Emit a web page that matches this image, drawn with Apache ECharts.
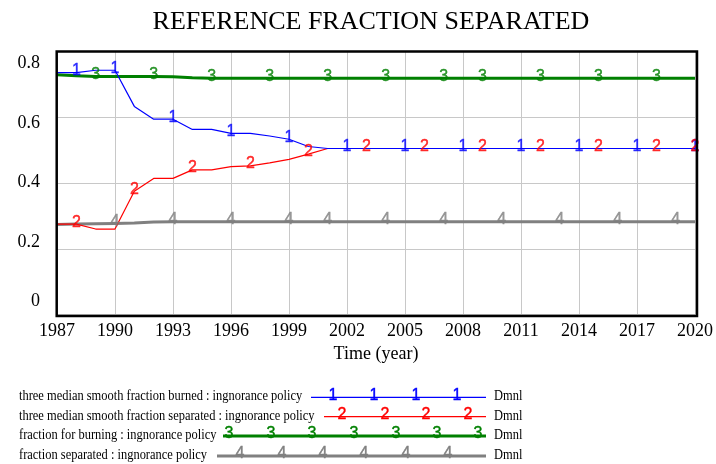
<!DOCTYPE html>
<html>
<head>
<meta charset="utf-8">
<script src="https://cdn.jsdelivr.net/npm/echarts@6/dist/echarts.min.js"></script>
<style>
  html, body { margin: 0; padding: 0; background: #fff; }
  #chart { width: 716px; height: 464px; }
</style>
</head>
<body>
<div id="chart"></div>
<script>
// Simulation years (one point per year)
const years = ['1987','1988','1989','1990','1991','1992','1993','1994','1995','1996',
  '1997','1998','1999','2000','2001','2002','2003','2004','2005','2006','2007','2008',
  '2009','2010','2011','2012','2013','2014','2015','2016','2017','2018','2019','2020'];

// three median smooth fraction burned : ingnorance policy
const smoothBurned = [0.736,0.736,0.743,0.743,0.633,0.594,0.594,0.563,0.563,0.551,
  0.551,0.543,0.533,0.511,0.505,0.505,0.505,0.505,0.505,0.505,0.505,0.505,
  0.505,0.505,0.505,0.505,0.505,0.505,0.505,0.505,0.505,0.505,0.505,0.505];

// three median smooth fraction separated : ingnorance policy
const smoothSeparated = [0.275,0.275,0.260,0.260,0.375,0.414,0.414,0.440,0.440,0.450,
  0.452,0.461,0.472,0.488,0.505,0.505,0.505,0.505,0.505,0.505,0.505,0.505,
  0.505,0.505,0.505,0.505,0.505,0.505,0.505,0.505,0.505,0.505,0.505,0.505];

// fraction for burning : ingnorance policy
const fractionBurning = [0.729,0.726,0.724,0.724,0.724,0.724,0.723,0.720,0.719,0.719,
  0.719,0.719,0.719,0.719,0.719,0.719,0.719,0.719,0.719,0.719,0.719,0.719,
  0.719,0.719,0.719,0.719,0.719,0.719,0.719,0.719,0.719,0.719,0.719,0.719];

// fraction separated : ingnorance policy
const fractionSeparated = [0.274,0.275,0.276,0.277,0.278,0.281,0.282,0.282,0.282,0.282,
  0.282,0.282,0.282,0.282,0.282,0.282,0.282,0.282,0.282,0.282,0.282,0.282,
  0.282,0.282,0.282,0.282,0.282,0.282,0.282,0.282,0.282,0.282,0.282,0.282];

// Years where each curve carries its number tag
const burnedTagYears = ['1988','1990','1993','1996','1999','2002','2005','2008','2011','2014','2017','2020'];
const separatedTagYears = ['1988','1991','1994','1997','2000','2003','2006','2009','2012','2015','2018','2020'];
const burningTagYears = ['1989','1992','1995','1998','2001','2004','2007','2009','2012','2015','2018'];
const fracSepTagYears = ['1990','1993','1996','1999','2001','2004','2007','2010','2013','2016','2019'];

// Y tick labels
const yTickValues = [0, 0.2, 0.4, 0.6, 0.8];

const seriesNames = [
  'three median smooth fraction burned : ingnorance policy',
  'three median smooth fraction separated : ingnorance policy',
  'fraction for burning : ingnorance policy',
  'fraction separated : ingnorance policy'
];
const unitLabel = 'Dmnl';

const BLUE = '#0000ff', RED = '#ff0000', GREEN = '#008000', GRAY = '#808080';
const SERIF = '"Liberation Serif", "Times New Roman", serif';
const NARROW = '"Liberation Sans Narrow", "Arial Narrow", "Liberation Sans", sans-serif';

function lineSeries(name, data, color, width, z) {
  return {
    name, type: 'line', data, symbol: 'none', z,
    lineStyle: { color, width }, itemStyle: { color },
    silent: true, animation: false
  };
}

function tagSeries(data, tagYears, tag, color) {
  const pts = tagYears.map(y => [y, data[years.indexOf(y)]]);
  return {
    type: 'scatter', data: pts, symbol: 'circle', symbolSize: 1, z: 10,
    itemStyle: { color: 'rgba(0,0,0,0)' }, silent: true, animation: false,
    label: {
      show: true, position: 'inside', formatter: tag, offset: [0, -2],
      color, fontFamily: NARROW, fontSize: 16,
      textBorderColor: color, textBorderWidth: 0.4
    }
  };
}

// Legend rows: line extent, tag positions along the line
const legendRows = [
  { y: 397.3, x1: 311, tags: [333, 374, 416, 457], color: BLUE, width: 1.2, tag: '1' },
  { y: 416.7, x1: 324, tags: [342, 385, 426, 468], color: RED, width: 1.2, tag: '2' },
  { y: 436, x1: 223, tags: [229, 271, 312, 354, 396, 437, 478], color: GREEN, width: 3, tag: '3' },
  { y: 456, x1: 217, tags: [240, 282, 323, 364, 406, 448], color: GRAY, width: 3, tag: '4' }
];

const graphics = [
  // plot frame
  { type: 'rect', shape: { x: 56.7, y: 51.5, width: 640.3, height: 264.5 },
    style: { fill: 'none', stroke: '#000', lineWidth: 2.5 }, z: 20, silent: true }
];
legendRows.forEach((r, i) => {
  graphics.push({ type: 'text', x: 19, y: r.y - 1, scaleX: 0.83, silent: true,
    style: { text: seriesNames[i], fontFamily: SERIF, fontSize: 15, fill: '#000',
      textVerticalAlign: 'middle', textAlign: 'left' } });
  graphics.push({ type: 'line', silent: true,
    shape: { x1: r.x1, y1: r.y, x2: 486, y2: r.y },
    style: { stroke: r.color, lineWidth: r.width } });
  r.tags.forEach(tx => graphics.push({ type: 'text', x: tx, y: r.y - 2, silent: true,
    style: { text: r.tag, fontFamily: NARROW, fontSize: 16, fill: r.color,
      stroke: r.color, lineWidth: 0.4,
      textAlign: 'center', textVerticalAlign: 'middle' } }));
  graphics.push({ type: 'text', x: 494, y: r.y - 1, scaleX: 0.83, silent: true,
    style: { text: unitLabel, fontFamily: SERIF, fontSize: 15, fill: '#000',
      textVerticalAlign: 'middle', textAlign: 'left' } });
});

const chart = echarts.init(document.getElementById('chart'), null, { renderer: 'canvas' });
chart.setOption({
  animation: false,
  backgroundColor: '#fff',
  title: {
    text: 'REFERENCE FRACTION SEPARATED', left: 366, top: 4, textAlign: 'center',
    textStyle: { fontFamily: SERIF, fontSize: 26, fontWeight: 'normal', color: '#000' }
  },
  grid: { left: 57, right: 20, top: 51.5, bottom: 149.5 },
  xAxis: {
    type: 'category', data: years, boundaryGap: false,
    axisLine: { show: false }, axisTick: { show: false },
    axisLabel: { interval: 2, margin: 8, color: '#000', fontFamily: SERIF, fontSize: 18 },
    splitLine: { show: true, interval: 2, lineStyle: { color: '#c8c8c8', width: 1 } },
    name: 'Time (year)', nameLocation: 'middle', nameGap: 31,
    nameTextStyle: { color: '#000', fontFamily: SERIF, fontSize: 18 }
  },
  yAxis: [
    {
      type: 'value', min: 0, max: 0.8, interval: 0.2,
      axisLine: { show: false }, axisTick: { show: false }, axisLabel: { show: false },
      splitLine: { show: true, lineStyle: { color: '#c8c8c8', width: 1 } }
    },
    {
      type: 'value', position: 'left', min: -0.043, max: 0.84,
      axisLine: { show: false }, axisTick: { show: false }, splitLine: { show: false },
      axisLabel: {
        customValues: yTickValues, margin: 17, color: '#000', fontFamily: SERIF, fontSize: 18,
        formatter: v => String(+(+v).toFixed(1))
      }
    }
  ],
  series: [
    lineSeries(seriesNames[3], fractionSeparated, GRAY, 3, 2),
    lineSeries(seriesNames[2], fractionBurning, GREEN, 3, 3),
    lineSeries(seriesNames[1], smoothSeparated, RED, 1.2, 4),
    lineSeries(seriesNames[0], smoothBurned, BLUE, 1.2, 5),
    tagSeries(fractionSeparated, fracSepTagYears, '4', GRAY),
    tagSeries(fractionBurning, burningTagYears, '3', GREEN),
    tagSeries(smoothBurned, burnedTagYears, '1', BLUE),
    tagSeries(smoothSeparated, separatedTagYears, '2', RED)
  ],
  graphic: graphics
});
</script>
</body>
</html>
